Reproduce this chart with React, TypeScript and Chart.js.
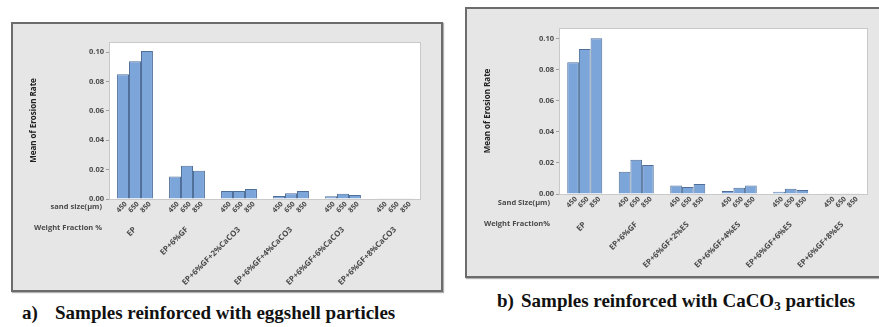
import React, { useEffect, useRef } from "react";
import { Chart, registerables } from "chart.js";

Chart.register(...registerables);

const sandSizes = ["450", "650", "850"];
const groupsA = ["EP", "EP+6%GF", "EP+6%GF+2%CaCO3", "EP+6%GF+4%CaCO3", "EP+6%GF+6%CaCO3", "EP+6%GF+8%CaCO3"];
const groupsB = ["EP", "EP+6%GF", "EP+6%GF+2%ES", "EP+6%GF+4%ES", "EP+6%GF+6%ES", "EP+6%GF+8%ES"];

const a450 = [0.085, 0.0153, 0.0055, 0.0021, 0.0018, 0.0005];
const a650 = [0.0938, 0.0226, 0.0055, 0.0039, 0.0036, 0.0005];
const a850 = [0.1009, 0.0192, 0.0068, 0.0055, 0.0027, 0.0005];

const b450 = [0.085, 0.0144, 0.0054, 0.0019, 0.0015, 0.0005];
const b650 = [0.0934, 0.0221, 0.0045, 0.004, 0.0034, 0.0005];
const b850 = [0.1004, 0.0187, 0.0065, 0.0054, 0.0026, 0.0005];

const yMax = 0.107;
const yStep = 0.02;

const BAR_FILL = "#7ca5da";
const BAR_EDGE = "#4f6f98";
const TEXT = "#4a4a4a";
const FONT = "'Open Sans', 'DejaVu Sans', sans-serif";

type Cfg = {
  groups: string[];
  series: number[][];
  width: number;
  height: number;
  pad: { left: number; right: number; top: number };
  yWidth: number;
  xHeight: number;
  catPct: number;
  sandLabel: string;
  wfLabel: string;
  rowOffsetX: number;
  sandRowY: number;
  wfRowY: number;
  xPad: number;
};

function makeChart(canvas: HTMLCanvasElement, c: Cfg) {
  const rowPlugin = {
    id: "rows",
    beforeDraw(chart: any) {
      const { ctx, chartArea } = chart;
      ctx.save();
      ctx.fillStyle = "#ffffff";
      ctx.fillRect(chartArea.left, chartArea.top, chartArea.right - chartArea.left, chartArea.bottom - chartArea.top);
      ctx.restore();
    },
    afterDraw(chart: any) {
      const { ctx, chartArea } = chart;
      ctx.save();
      ctx.strokeStyle = "#c9c9c9";
      ctx.lineWidth = 1;
      ctx.strokeRect(chartArea.left + 0.5, chartArea.top + 0.5, chartArea.right - chartArea.left - 1, chartArea.bottom - chartArea.top);
      ctx.fillStyle = TEXT;
      ctx.font = `bold 7px ${FONT}`;
      chart.data.datasets.forEach((ds: any, i: number) => {
        const meta = chart.getDatasetMeta(i);
        meta.data.forEach((el: any) => {
          ctx.save();
          ctx.translate(el.x + 3, chartArea.bottom + 4);
          ctx.rotate(-Math.PI / 4);
          ctx.textAlign = "right";
          ctx.textBaseline = "middle";
          ctx.fillText(ds.label, 0, 0);
          ctx.restore();
        });
      });
      ctx.textAlign = "right";
      ctx.textBaseline = "middle";
      ctx.font = `bold 7.5px ${FONT}`;
      ctx.fillText(c.sandLabel, chartArea.left + c.rowOffsetX, chartArea.bottom + c.sandRowY);
      ctx.fillText(c.wfLabel, chartArea.left + c.rowOffsetX, chartArea.bottom + c.wfRowY);
      ctx.restore();
    },
  };

  return new Chart(canvas, {
    type: "bar",
    data: {
      labels: c.groups,
      datasets: c.series.map((s, i) => ({
        label: sandSizes[i],
        data: s,
        backgroundColor: BAR_FILL,
        borderColor: BAR_EDGE,
        borderWidth: 1,
        barPercentage: 1,
        categoryPercentage: c.catPct,
      })),
    },
    options: {
      responsive: false,
      animation: false,
      layout: { padding: { left: c.pad.left, right: c.pad.right, top: c.pad.top, bottom: 0 } },
      plugins: { legend: { display: false }, tooltip: { enabled: false } },
      scales: {
        x: {
          grid: { display: false },
          border: { display: false },
          ticks: {
            minRotation: 45,
            maxRotation: 45,
            padding: c.xPad,
            color: TEXT,
            font: { family: FONT, size: 8, weight: "bold" },
          },
          afterFit: (s: any) => {
            s.height = c.xHeight;
          },
        },
        y: {
          min: 0,
          max: yMax,
          border: { display: false },
          grid: { drawOnChartArea: false, drawTicks: true, tickLength: 3, color: "#a0a0a0" },
          ticks: {
            stepSize: yStep,
            includeBounds: false,
            padding: 2,
            color: TEXT,
            font: { family: FONT, size: 7.5, weight: "bold" },
            callback: (v: any) => Number(v).toFixed(2),
          },
          title: {
            display: true,
            text: "Mean of Erosion Rate",
            color: "#222",
            font: { family: FONT, size: 8, weight: "bold" },
          },
          afterFit: (s: any) => {
            s.width = c.yWidth;
          },
        },
      },
    },
    plugins: [rowPlugin],
  });
}

function Panel(props: { cfg: Cfg; style: React.CSSProperties }) {
  const ref = useRef<HTMLCanvasElement>(null);
  useEffect(() => {
    const ch = makeChart(ref.current as HTMLCanvasElement, props.cfg);
    return () => ch.destroy();
  }, []);
  return (
    <div
      style={{
        position: "absolute",
        boxSizing: "border-box",
        border: "2px solid #6c6c6c",
        background: "#e6e6e6",
        boxShadow: "1px 1px 1px #b0b0b0",
        ...props.style,
      }}
    >
      <canvas ref={ref} width={props.cfg.width} height={props.cfg.height} style={{ display: "block" }} />
    </div>
  );
}

const cfgA: Cfg = {
  groups: groupsA,
  series: [a450, a650, a850],
  width: 428,
  height: 266,
  pad: { left: 12, right: 20, top: 18 },
  yWidth: 84,
  xHeight: 91,
  catPct: 0.69,
  sandLabel: "sand size(µm)",
  wfLabel: "Weight Fraction %",
  rowOffsetX: -7,
  sandRowY: 8,
  wfRowY: 29,
  xPad: 18,
};

const cfgB: Cfg = {
  groups: groupsB,
  series: [b450, b650, b850],
  width: 418,
  height: 267,
  pad: { left: 12, right: 17, top: 19 },
  yWidth: 80,
  xHeight: 82,
  catPct: 0.68,
  sandLabel: "Sand Size(µm)",
  wfLabel: "Weight Fraction%",
  rowOffsetX: -9,
  sandRowY: 9,
  wfRowY: 30,
  xPad: 18,
};

const capFont: React.CSSProperties = {
  position: "absolute",
  fontFamily: "'Liberation Serif', 'Times New Roman', serif",
  fontWeight: "bold",
  fontSize: 19,
  lineHeight: "19px",
  color: "#111",
  whiteSpace: "nowrap",
};

export default function App() {
  return (
    <div style={{ position: "fixed", left: 0, top: 0, width: 879, height: 327, background: "#fff", overflow: "hidden" }}>
      <Panel cfg={cfgA} style={{ left: 11, top: 22, width: 432, height: 270 }} />
      <Panel cfg={cfgB} style={{ left: 465, top: 7, width: 422, height: 271 }} />
      <div style={{ ...capFont, left: 22, top: 303 }}>a)</div>
      <div style={{ ...capFont, left: 55, top: 303 }}>Samples reinforced with eggshell particles</div>
      <div style={{ ...capFont, left: 497, top: 291 }}>b)</div>
      <div style={{ ...capFont, left: 521, top: 291 }}>
        Samples reinforced with CaCO<sub style={{ fontSize: 13, verticalAlign: "baseline", position: "relative", top: 3 }}>3</sub> particles
      </div>
    </div>
  );
}
